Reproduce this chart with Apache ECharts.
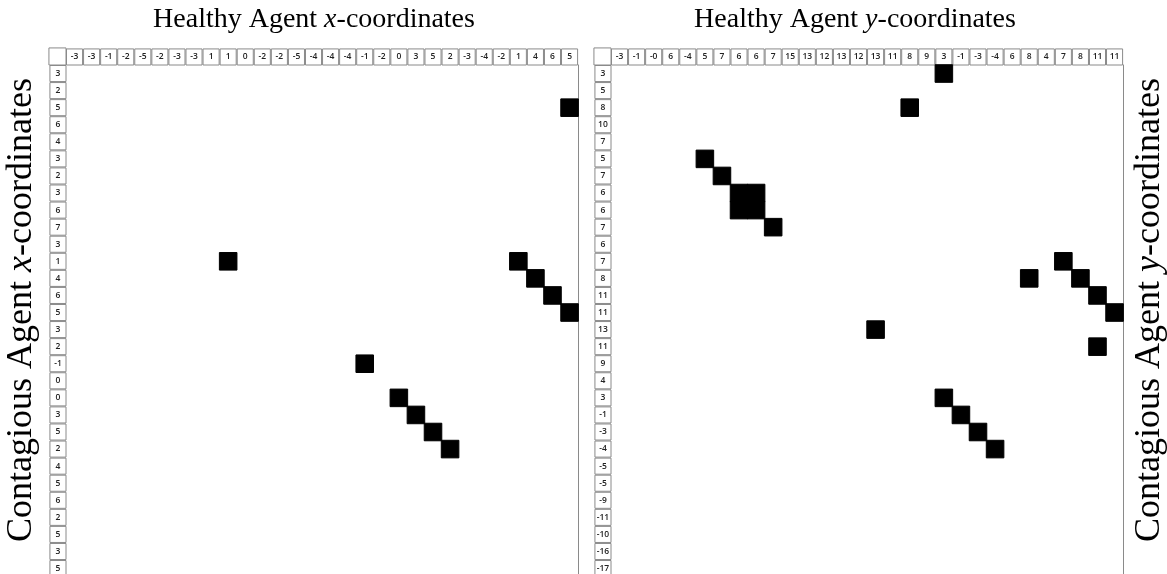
<!DOCTYPE html>
<html>
<head>
<meta charset="utf-8">
<script src="https://cdn.jsdelivr.net/npm/echarts@6/dist/echarts.min.js"></script>
<style>html,body{margin:0;padding:0;background:#fff}#c{width:1167px;height:574px}</style>
</head>
<body>
<div id="c"></div>
<script>
// Tick labels (header cells)
const leftXLabels = ['-3','-3','-1','-2','-5','-2','-3','-3','1','1','0','-2','-2','-5','-4','-4','-4','-1','-2','0','3','5','2','-3','-4','-2','1','4','6','5'];
const leftYLabels = ['3','2','5','6','4','3','2','3','6','7','3','1','4','6','5','3','2','-1','0','0','3','5','2','4','5','6','2','5','3','5'];
const rightXLabels = ['-3','-1','-0','6','-4','5','7','6','6','7','15','13','12','13','12','13','11','8','9','3','-1','-3','-4','6','8','4','7','8','11','11'];
const rightYLabels = ['3','5','8','10','7','5','7','6','6','7','6','7','8','11','11','13','11','9','4','3','-1','-3','-4','-5','-5','-9','-11','-10','-16','-17'];

// Matched cells: [column index, row index]
const leftMatches = [[29,2],[9,11],[26,11],[27,12],[28,13],[29,14],[17,17],[19,19],[20,20],[21,21],[22,22]];
const rightMatches = [[19,0],[17,2],[5,5],[6,6],[7,7],[8,7],[7,8],[8,8],[9,9],[26,11],[24,12],[27,12],[28,13],[29,14],[15,15],[28,16],[19,19],[20,20],[21,21],[22,22]];

const CELL = 17.07;
const N = 30;
const G1L = 66, G2L = 611, GT = 65, GW = CELL * N, GH = CELL * N;
const border = '#8a8a8a';
const lblFont = { fontFamily: 'Open Sans', fontSize: 8.5, color: '#222', fontWeight: 600 };
const serif = 'Liberation Serif';

function cellRich() {
  return { a: Object.assign({ width: CELL - 1, height: CELL - 1, lineHeight: CELL - 1, align: 'center',
    verticalAlign: 'middle', borderColor: border, borderWidth: 1, padding: 0 }, lblFont) };
}
function xAxisFor(idx, labels) {
  return {
    type: 'category', gridIndex: idx, position: 'top', data: labels,
    axisLine: { show: false }, axisTick: { show: false }, splitLine: { show: false },
    axisLabel: { interval: 0, margin: 0, formatter: v => '{a|' + v + '}', rich: cellRich() }
  };
}
function nameStyle(pad) {
  return {
    fontFamily: serif, fontSize: 36, color: '#000', padding: pad,
    rich: { i: { fontFamily: serif, fontSize: 36, fontStyle: 'italic', color: '#000' } }
  };
}
function rowAxis(idx, labels) {
  return {
    type: 'category', gridIndex: idx, inverse: true, data: labels, position: 'left',
    axisLine: { show: false }, axisTick: { show: false }, splitLine: { show: false },
    axisLabel: { interval: 0, margin: 0, align: 'right', formatter: v => '{a|' + v + '}', rich: cellRich() }
  };
}
function edgeAxis(idx, labels) {
  return {
    type: 'category', gridIndex: idx, inverse: true, data: labels, position: 'right',
    axisLine: { show: true, lineStyle: { color: border, width: 1 } },
    axisTick: { show: false }, axisLabel: { show: false }, splitLine: { show: false }
  };
}

const chart = echarts.init(document.getElementById('c'), null, { renderer: 'canvas' });
const titleStyle = { fontFamily: serif, fontSize: 28, fontWeight: 'normal', color: '#000',
  rich: { i: { fontFamily: serif, fontSize: 28, fontStyle: 'italic', color: '#000' } } };
const option = {
  animation: false,
  backgroundColor: '#fff',
  title: [
    { text: 'Healthy Agent {i|x}-coordinates', left: 309, textAlign: 'center', top: 1, textStyle: titleStyle },
    { text: 'Healthy Agent {i|y}-coordinates', left: 850, textAlign: 'center', top: 1, textStyle: titleStyle }
  ],
  grid: [
    { left: G1L, top: GT, width: GW, height: GH, show: false, containLabel: false, outerBoundsMode: 'none' },
    { left: G2L, top: GT, width: GW, height: GH, show: false, containLabel: false, outerBoundsMode: 'none' }
  ],
  xAxis: [xAxisFor(0, leftXLabels), xAxisFor(1, rightXLabels)],
  yAxis: [
    Object.assign(rowAxis(0, leftYLabels), { name: 'Contagious Agent {i|x}-coordinates', nameLocation: 'middle',
      nameRotate: 90, nameGap: 26, nameTextStyle: nameStyle([0, 0, 0, 22]) }),
    edgeAxis(0, leftYLabels),
    rowAxis(1, rightYLabels),
    Object.assign(edgeAxis(1, rightYLabels), { name: 'Contagious Agent {i|y}-coordinates', nameLocation: 'middle',
      nameRotate: 90, nameGap: 8, nameTextStyle: nameStyle([0, 0, 0, 22]) })
  ],
  visualMap: { show: false, min: 0, max: 1, inRange: { color: ['#000', '#000'] }, seriesIndex: [0, 1] },
  series: [
    { type: 'heatmap', xAxisIndex: 0, yAxisIndex: 0, data: leftMatches.map(p => [p[0], p[1], 1]),
      itemStyle: { borderColor: '#000', borderWidth: 1 } },
    { type: 'heatmap', xAxisIndex: 1, yAxisIndex: 2, data: rightMatches.map(p => [p[0], p[1], 1]),
      itemStyle: { borderColor: '#000', borderWidth: 1 } }
  ],
  graphic: [
    { type: 'rect', shape: { x: G1L - CELL, y: GT - CELL, width: CELL, height: CELL }, style: { fill: 'none', stroke: border, lineWidth: 1 } },
    { type: 'rect', shape: { x: G2L - CELL, y: GT - CELL, width: CELL, height: CELL }, style: { fill: 'none', stroke: border, lineWidth: 1 } }
  ]
};
chart.setOption(option);
</script>
</body>
</html>
